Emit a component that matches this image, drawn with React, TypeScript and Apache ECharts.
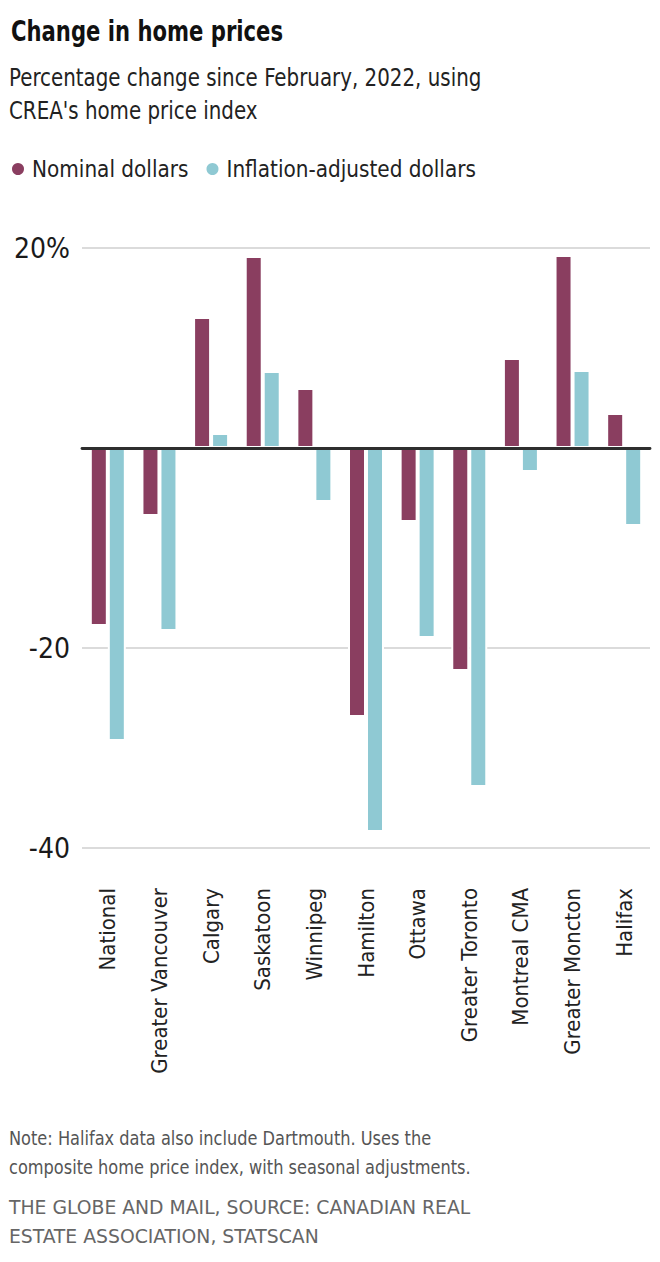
import React, { useEffect, useRef } from "react";
import * as echarts from "echarts";

const categories = [
  "National",
  "Greater Vancouver",
  "Calgary",
  "Saskatoon",
  "Winnipeg",
  "Hamilton",
  "Ottawa",
  "Greater Toronto",
  "Montreal CMA",
  "Greater Moncton",
  "Halifax",
];
const nominal = [-17.8, -6.8, 13.1, 19.2, 6.0, -26.9, -7.4, -22.3, 9.0, 19.3, 3.5];
const inflationAdjusted = [-29.3, -18.3, 1.5, 7.7, -5.4, -38.4, -19.0, -33.9, -2.4, 7.8, -7.8];
const yTicks = { min: -40, max: 20, interval: 20 };

const FONT = "'DejaVu Sans Condensed', 'Liberation Sans', sans-serif";
const NOMINAL_COLOR = "#8a3e60";
const INFL_COLOR = "#8fc9d3";

export default function App() {
  const ref = useRef<HTMLDivElement>(null);
  useEffect(() => {
    document.body.style.margin = "0";
    const chart = echarts.init(ref.current!, null, { renderer: "svg" });
    chart.setOption({
      animation: false,
      backgroundColor: "#fff",
      textStyle: { fontFamily: FONT },
      legend: {
        left: 5,
        top: 153,
        icon: "circle",
        itemWidth: 14,
        itemHeight: 14,
        itemGap: 16,
        textStyle: { fontFamily: FONT, fontSize: 22.3, color: "#222", padding: [0, 0, 0, 2] },
        data: ["Nominal dollars", "Inflation-adjusted dollars"],
      },
      grid: { left: 82, right: 10, top: 248, bottom: 414, containLabel: false },
      xAxis: [
        {
          type: "category",
          data: categories,
          position: "bottom",
          axisLine: { show: false, onZero: false },
          axisTick: { show: false },
          axisLabel: {
            rotate: 90,
            margin: 40,
            fontFamily: FONT,
            fontSize: 22,
            color: "#222",
            interval: 0,
            padding: [6, 0, 0, 0],
          },
        },
        {
          type: "category",
          data: categories,
          position: "bottom",
          z: 10,
          axisLine: { show: true, onZero: true, lineStyle: { color: "#2e2e2e", width: 2.8 } },
          axisTick: { show: false },
          axisLabel: { show: false },
        },
      ],
      yAxis: {
        type: "value",
        min: yTicks.min,
        max: yTicks.max,
        interval: yTicks.interval,
        axisLine: { show: false },
        axisTick: { show: false },
        splitLine: { lineStyle: { color: "#cfcfcf", width: 1.6 } },
        axisLabel: {
          margin: 12,
          fontFamily: FONT,
          fontSize: 28,
          color: "#1a1a1a",
          formatter: (v: number) => (v === 0 ? "" : v === 20 ? "20%" : String(v)),
        },
      },
      series: [
        {
          name: "Nominal dollars",
          type: "bar",
          xAxisIndex: 0,
          data: nominal,
          barWidth: 18,
          barGap: "0%",
          itemStyle: { color: NOMINAL_COLOR, borderColor: "#fff", borderWidth: 2 },
        },
        {
          name: "Inflation-adjusted dollars",
          type: "bar",
          xAxisIndex: 0,
          data: inflationAdjusted,
          barWidth: 18,
          barGap: "0%",
          itemStyle: { color: INFL_COLOR, borderColor: "#fff", borderWidth: 2 },
        },
      ],
      graphic: [
        {
          type: "text",
          x: 11,
          y: 17,
          scaleX: 0.84,
          style: {
            text: "Change in home prices",
            font: `bold 28px ${FONT}`,
            fill: "#111",
            textVerticalAlign: "top",
          },
        },
        {
          type: "text",
          x: 9,
          y: 61,
          scaleX: 0.92,
          style: {
            text: "Percentage change since February, 2022, using\nCREA's home price index",
            font: `24px ${FONT}`,
            lineHeight: 33,
            fill: "#222",
            textVerticalAlign: "top",
          },
        },
        {
          type: "text",
          x: 9,
          y: 1123,
          scaleX: 0.9,
          style: {
            text: "Note: Halifax data also include Dartmouth. Uses the\ncomposite home price index, with seasonal adjustments.",
            font: `20px ${FONT}`,
            lineHeight: 29,
            fill: "#555",
            textVerticalAlign: "top",
          },
        },
        {
          type: "text",
          x: 9,
          y: 1193,
          scaleX: 1.045,
          style: {
            text: "THE GLOBE AND MAIL, SOURCE: CANADIAN REAL\nESTATE ASSOCIATION, STATSCAN",
            font: `20px ${FONT}`,
            lineHeight: 29,
            fill: "#666",
            textVerticalAlign: "top",
          },
        },
      ],
    });
    return () => chart.dispose();
  }, []);
  return <div ref={ref} style={{ width: 660, height: 1262 }} />;
}
